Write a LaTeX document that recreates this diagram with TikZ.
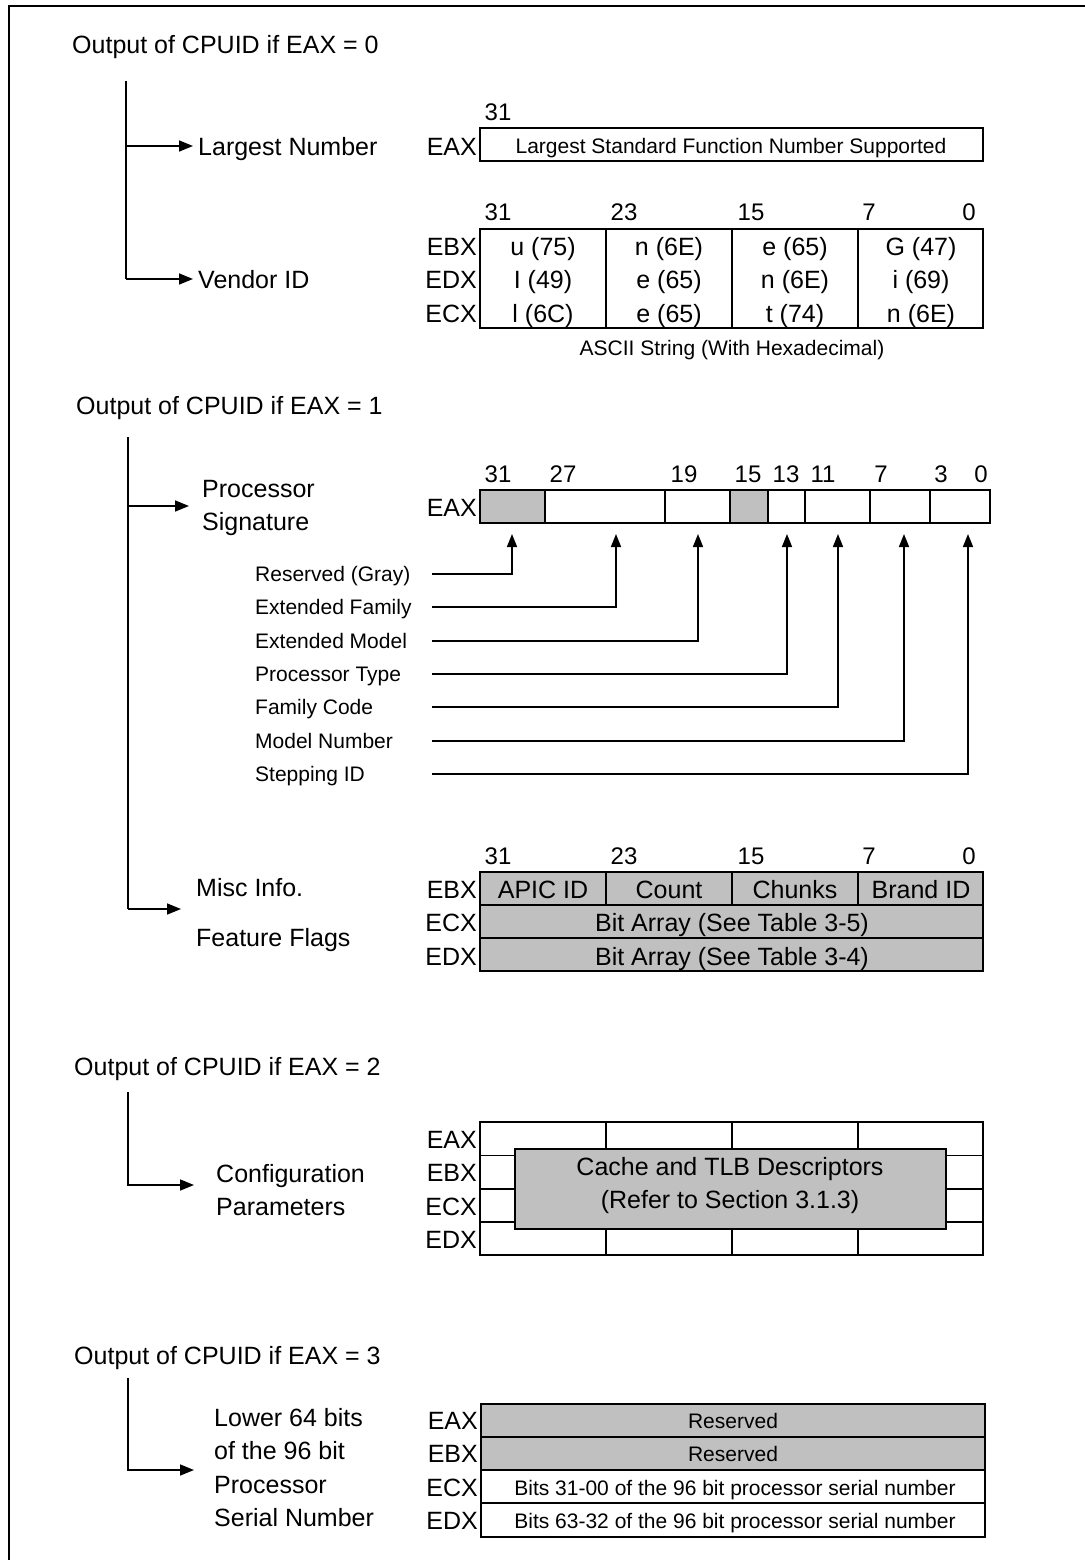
\documentclass[tikz,border=0pt]{standalone}
\usepackage{fontspec}
\setmainfont{Liberation Sans}
\usetikzlibrary{arrows.meta}
\definecolor{cellgray}{RGB}{192,192,192}
\begin{document}
\begin{tikzpicture}[x=1pt,y=-1pt,
  lbl/.style={inner sep=0pt, font=\fontsize{25}{30}\selectfont, text height=18pt, text depth=0pt},
  sml/.style={inner sep=0pt, font=\fontsize{21}{25}\selectfont, text height=15pt, text depth=0pt},
  num/.style={inner sep=0pt, font=\fontsize{24}{28}\selectfont, text height=17pt, text depth=0pt},
  reg/.style={lbl, anchor=east},
  conn/.style={line width=1.6pt},
  arr/.style={conn, -{Triangle[length=14pt,width=11pt]}},
  box/.style={draw, line width=1.8pt},
]
\useasboundingbox (0,0) rectangle (1084,1560);
% frame
\draw[line width=2.6pt] (9,1565) -- (9,6) -- (1090,6);

% ================= EAX = 0 =================
\node[lbl, anchor=west] (t0) at (72,45) {Output of CPUID if EAX = 0};
\coordinate (v0top) at (126,81);
\coordinate (v0bot) at (126,279);
\node[lbl, anchor=west] (lgn) at (198,146) {Largest Number};
\node[lbl, anchor=west] (vid) at (198,279) {Vendor ID};
\draw[conn] (v0top) -- (v0bot);
\draw[arr] (v0top |- lgn.west) -- ([xshift=-5pt]lgn.west);
\draw[arr] (v0bot) -- ([xshift=-5pt]vid.west);

\node[num] (n0a) at (498,112) {31};
\node[reg] (r0a) at (477,146) {EAX};
\draw[box] (480,128) rectangle (983,161);
\node[sml] (lsf) at (731,146) {Largest Standard Function Number Supported};

\foreach \x/\t [count=\i] in {498/31,624/23,751/15,869/7,969/0}
  \node[num] (n0b\i) at (\x,212) {\t};
\node[reg] (r0b) at (477,246) {EBX};
\node[reg] (r0d) at (477,279) {EDX};
\node[reg] (r0c) at (477,313) {ECX};
\draw[box] (480,229) rectangle (983,328);
\draw[box] (606,229) -- (606,328) (732,229) -- (732,328) (858,229) -- (858,328);
\foreach \x/\a/\b/\c [count=\i] in {543/{u (75)}/{I (49)}/{l (6C)},669/{n (6E)}/{e (65)}/{e (65)},795/{e (65)}/{n (6E)}/{t (74)},921/{G (47)}/{i (69)}/{n (6E)}}{
  \node[lbl] (vb\i) at (\x,246) {\a};
  \node[lbl] (vd\i) at (\x,279) {\b};
  \node[lbl] (vc\i) at (\x,313) {\c};
}
\node[sml] (asc) at (732,348) {ASCII String (With Hexadecimal)};

% ================= EAX = 1 =================
\node[lbl, anchor=west] (t1) at (76,405) {Output of CPUID if EAX = 1};
\coordinate (v1top) at (128,437);
\coordinate (v1bot) at (128,909);
\node[lbl, anchor=west] (ps1) at (202,488) {Processor};
\node[lbl, anchor=west] (ps2) at (202,521) {Signature};
\draw[conn] (v1top) -- (v1bot);
\draw[arr] (128,506) -- (189,506);

\foreach \x/\t [count=\i] in {498/31,563/27,684/19,748/15,786/13,823/11,881/7,941/3,981/0}
  \node[num] (n1\i) at (\x,474) {\t};
\node[reg] (r1a) at (477,507) {EAX};
\fill[cellgray] (480,490) rectangle (545,523);
\fill[cellgray] (730,490) rectangle (768,523);
\draw[box] (480,490) rectangle (990,523);
\foreach \x in {545,665,730,768,805,870,930}
  \draw[box] (\x,490) -- (\x,523);

\coordinate (ls) at (432,0);
\foreach \y/\x/\t [count=\i] in {574/512/{Reserved (Gray)},607/616/{Extended Family},641/698/{Extended Model},674/787/{Processor Type},707/838/{Family Code},741/904/{Model Number},774/968/{Stepping ID}}{
  \node[sml, anchor=west] (f\i) at (255,\y) {\t};
  \coordinate (tip\i) at (\x,534);
  \draw[conn, -{Triangle[length=13pt,width=10pt]}] (f\i -| ls) -| (tip\i);
}

\foreach \x/\t [count=\i] in {498/31,624/23,751/15,869/7,969/0}
  \node[num] (n1b\i) at (\x,856) {\t};
\node[reg] (r1b) at (477,889) {EBX};
\node[reg] (r1c) at (477,922) {ECX};
\node[reg] (r1d) at (477,956) {EDX};
\fill[cellgray] (480,872) rectangle (983,971);
\draw[box] (480,872) rectangle (983,971);
\draw[box] (480,905) -- (983,905) (480,938) -- (983,938);
\draw[box] (606,872) -- (606,905) (732,872) -- (732,905) (858,872) -- (858,905);
\node[lbl] (apic) at (543,889) {APIC ID};
\node[lbl] (cnt) at (669,889) {Count};
\node[lbl] (chk) at (795,889) {Chunks};
\node[lbl] (brd) at (921,889) {Brand ID};
\node[lbl] (ba5) at (732,922) {Bit Array (See Table 3-5)};
\node[lbl] (ba4) at (732,956) {Bit Array (See Table 3-4)};
\node[lbl, anchor=west] (misc) at (196,887) {Misc Info.};
\node[lbl, anchor=west] (ff) at (196,937) {Feature Flags};
\draw[arr] (v1bot) -- (181,909);

% ================= EAX = 2 =================
\node[lbl, anchor=west] (t2) at (74,1066) {Output of CPUID if EAX = 2};
\coordinate (v2top) at (128,1092);
\coordinate (v2bot) at (128,1185);
\node[lbl, anchor=west] (cf1) at (216,1173) {Configuration};
\node[lbl, anchor=west] (cf2) at (216,1206) {Parameters};
\draw[arr] (v2top) -- (v2bot) -- (194,1185);

\node[reg] (r2a) at (477,1139) {EAX};
\node[reg] (r2b) at (477,1172) {EBX};
\node[reg] (r2c) at (477,1206) {ECX};
\node[reg] (r2d) at (477,1239) {EDX};
\draw[box] (480,1122) rectangle (983,1255);
\draw[box] (480,1155.5) -- (983,1155.5) (480,1189) -- (983,1189) (480,1222) -- (983,1222);
\foreach \x in {606,732,858}
  \draw[box] (\x,1122) -- (\x,1255);
\draw[box, fill=cellgray] (515,1149) rectangle (946,1229);
\node[lbl] (ct1) at (730,1166) {Cache and TLB Descriptors};
\node[lbl] (ct2) at (730,1199) {(Refer to Section 3.1.3)};

% ================= EAX = 3 =================
\node[lbl, anchor=west] (t3) at (74,1355) {Output of CPUID if EAX = 3};
\coordinate (v3top) at (128,1378);
\coordinate (v3bot) at (128,1470);
\node[lbl, anchor=west] (s1) at (214,1417) {Lower 64 bits};
\node[lbl, anchor=west] (s2) at (214,1450) {of the 96 bit};
\node[lbl, anchor=west] (s3) at (214,1484) {Processor};
\node[lbl, anchor=west] (s4) at (214,1517) {Serial Number};
\draw[arr] (v3top) -- (v3bot) -- (194,1470);

\node[reg] (r3a) at (478,1420) {EAX};
\node[reg] (r3b) at (478,1453) {EBX};
\node[reg] (r3c) at (478,1487) {ECX};
\node[reg] (r3d) at (478,1520) {EDX};
\fill[cellgray] (481,1404) rectangle (985,1470);
\draw[box] (481,1404) rectangle (985,1537);
\draw[box] (481,1437) -- (985,1437) (481,1470) -- (985,1470) (481,1503) -- (985,1503);
\node[sml] (rs1) at (733,1421) {Reserved};
\node[sml] (rs2) at (733,1454) {Reserved};
\node[sml] (sn1) at (735,1488) {Bits 31-00 of the 96 bit processor serial number};
\node[sml] (sn2) at (735,1521) {Bits 63-32 of the 96 bit processor serial number};
\end{tikzpicture}
\end{document}
